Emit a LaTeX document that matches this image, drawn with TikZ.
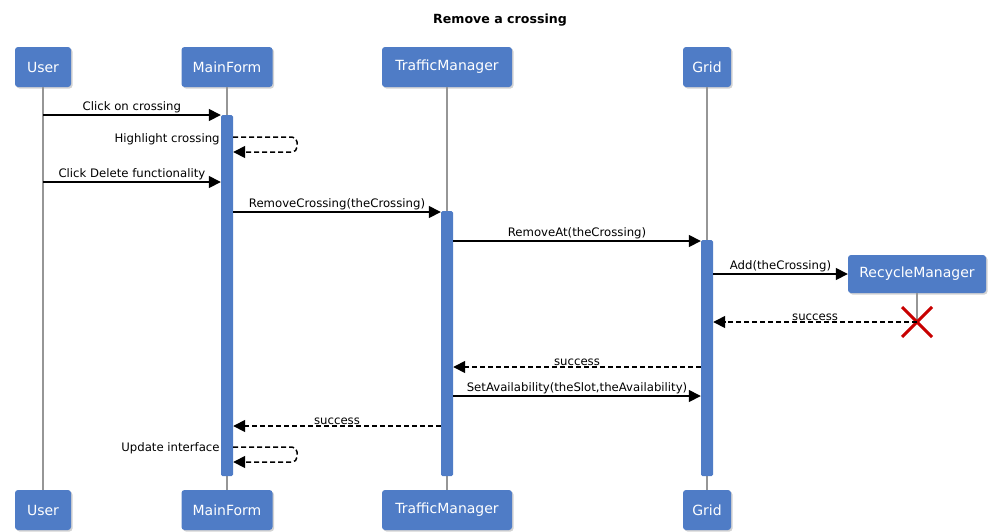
\documentclass[tikz,border=0pt]{standalone}
\usepackage{fontspec}
\setmainfont{DejaVu Sans}
\usetikzlibrary{arrows.meta,shadows,calc}
\definecolor{boxblue}{RGB}{79,124,198}
\definecolor{lifegray}{RGB}{150,150,150}
\definecolor{xred}{RGB}{200,0,0}
\begin{document}
\begin{tikzpicture}[x=1pt,y=-1pt,
  head/.style={rectangle, rounded corners=3pt, fill=boxblue, text=white,
    font=\fontsize{14}{16}\selectfont, minimum height=40pt, inner xsep=3pt,
    drop shadow={shadow xshift=1.5pt,shadow yshift=-1.5pt,opacity=0.35}},
  bar/.style={rectangle, fill=boxblue, minimum width=12pt, inner sep=0pt, rounded corners=1.5pt, anchor=north},
  life/.style={draw=lifegray, line width=1.5pt},
  msg/.style={draw=black, line width=1.5pt, -{Triangle[length=12pt,width=12pt]}},
  ret/.style={msg, dash pattern=on 5pt off 3pt},
  lbl/.style={font=\fontsize{11.7}{14}\selectfont, inner sep=1pt},
  ttl/.style={font=\bfseries\fontsize{12.6}{15}\selectfont}
]
\useasboundingbox (0,0) rectangle (1001,531);
\node[ttl] (title) at (500,20) {Remove a crossing};

% heads top
\node[head, minimum width=56pt] (user) at (43,67) {User};
\node[head, minimum width=91pt] (mf) at (227,67) {MainForm};
\node[head, minimum width=130pt] (tm) at (447,67) {TrafficManager};
\node[head, minimum width=48pt] (grid) at (707,67) {Grid};
% heads bottom
\node[head, minimum width=56pt] (userb) at (43,510) {User};
\node[head, minimum width=91pt] (mfb) at (227,510) {MainForm};
\node[head, minimum width=130pt] (tmb) at (447,510) {TrafficManager};
\node[head, minimum width=48pt] (gridb) at (707,510) {Grid};
% recycle manager
\node[head, minimum width=138pt, minimum height=38pt] (rm) at (917,274) {RecycleManager};
\coordinate (rmx) at (917,322);

% lifelines
\draw[life] (user.south) -- (userb.north);
\draw[life] (mf.south) -- (mfb.north);
\draw[life] (tm.south) -- (tmb.north);
\draw[life] (grid.south) -- (gridb.north);
\draw[life] (rm.south) -- (rmx);

% activation bars
\node[bar, minimum height=361pt] (mfbar) at (227,115) {};
\node[bar, minimum height=265pt] (tmbar) at (447,211) {};
\node[bar, minimum height=236pt] (gbar) at (707,240) {};

% destruction mark
\draw[xred, line width=3pt] ($(rmx)+(-15,-15)$) -- ($(rmx)+(15,15)$);
\draw[xred, line width=3pt] ($(rmx)+(-15,15)$) -- ($(rmx)+(15,-15)$);

% messages
\draw[msg] (user |- 0,115) -- node[lbl, above] {Click on crossing} (mfbar.west |- 0,115);
\draw[ret, rounded corners=5pt] (mfbar.east |- 0,137) -- (297,137) -- (297,152) -- (mfbar.east |- 0,152);
\node[lbl, left] (l2) at (mfbar.west |- 0,139) {Highlight crossing};
\draw[msg] (user |- 0,182) -- node[lbl, above] {Click Delete functionality} (mfbar.west |- 0,182);
\draw[msg] (mfbar.east |- 0,212) -- node[lbl, above] {RemoveCrossing(theCrossing)} (tmbar.west |- 0,212);
\draw[msg] (tmbar.east |- 0,241) -- node[lbl, above] {RemoveAt(theCrossing)} (gbar.west |- 0,241);
\draw[msg] (gbar.east |- 0,274) -- node[lbl, above] {Add(theCrossing)} (rm.west);
\draw[ret] (rmx) -- node[lbl, above] {success} (gbar.east |- rmx);
\draw[ret] (gbar.west |- 0,367) -- node[lbl, above] {success} (tmbar.east |- 0,367);
\draw[msg] (tmbar.east |- 0,396) -- node[lbl, above] {SetAvailability(theSlot,theAvailability)} (gbar.west |- 0,396);
\draw[ret] (tmbar.west |- 0,426) -- node[lbl, above] {success} (mfbar.east |- 0,426);
\draw[ret, rounded corners=5pt] (mfbar.east |- 0,447) -- (297,447) -- (297,462) -- (mfbar.east |- 0,462);
\node[lbl, left] (l11) at (mfbar.west |- 0,448) {Update interface};
\end{tikzpicture}
\end{document}
